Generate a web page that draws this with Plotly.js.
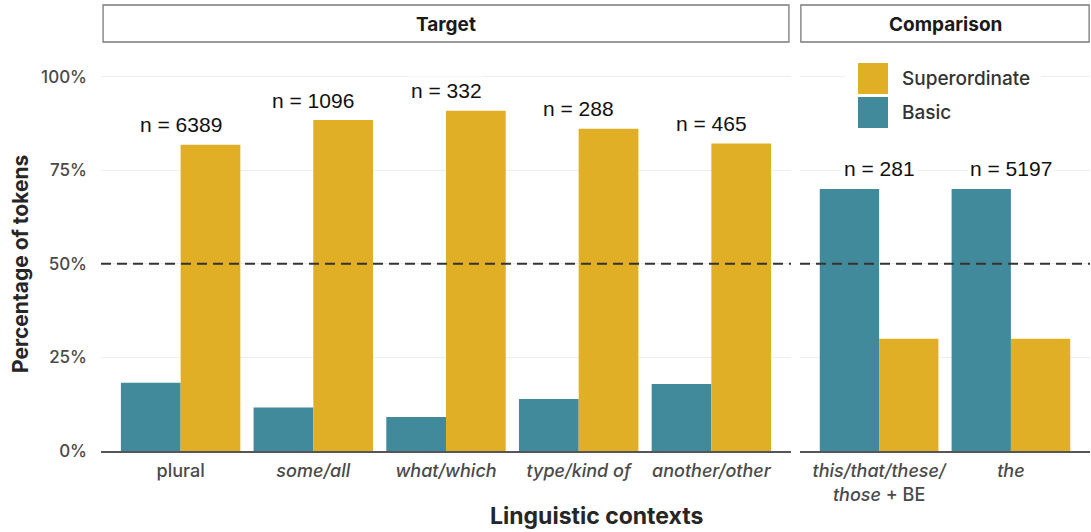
<!DOCTYPE html>
<html>
<head>
<meta charset="utf-8">
<script src="https://cdn.plot.ly/plotly-3.0.1.min.js"></script>
<style>html,body{margin:0;padding:0;background:#fff;}#chart{width:1091px;height:532px;}</style>
</head>
<body>
<div id="chart"></div>
<script>
// ---- data ----
const catsTarget = ['plural', 'some/all', 'what/which', 'type/kind of', 'another/other'];
const tickTarget = ['plural', '<i>some/all</i>', '<i>what/which</i>', '<i>type/kind of</i>', '<i>another/other</i>'];
const basicTarget = [18.2, 11.6, 9.1, 13.9, 17.9];
const superTarget = [81.8, 88.4, 90.9, 86.1, 82.1];
const nTarget = [6389, 1096, 332, 288, 465];

const catsComp = ['this/that/these/those + BE', 'the'];
const tickComp = ['<i>this/that/these/</i><br><i>those</i> + BE', '<i>the</i>'];
const basicComp = [70.0, 70.0];
const superComp = [30.0, 30.0];
const nComp = [281, 5197];

const yTickVals = [0, 25, 50, 75, 100];
const yTickText = ['0%', '25%', '50%', '75%', '100%'];
const facetNames = ['Target', 'Comparison'];
const seriesNames = ['Superordinate', 'Basic'];

// ---- style ----
const W = 1091, H = 532;
const px = x => x / W;
const py = y => (H - y) / H;
const colBasic = '#408a9b';
const colSuper = '#e0af25';
const themeFont = 'Inter, Roboto, "DejaVu Sans", sans-serif';

const traces = [
  {type: 'bar', name: 'Basic', x: catsTarget, y: basicTarget, xaxis: 'x', yaxis: 'y', marker: {color: colBasic}, showlegend: false, hoverinfo: 'x+y'},
  {type: 'bar', name: 'Superordinate', x: catsTarget, y: superTarget, xaxis: 'x', yaxis: 'y', marker: {color: colSuper}, showlegend: false, hoverinfo: 'x+y'},
  {type: 'bar', name: 'Basic', x: catsComp, y: basicComp, xaxis: 'x2', yaxis: 'y2', marker: {color: colBasic}, showlegend: false, hoverinfo: 'x+y'},
  {type: 'bar', name: 'Superordinate', x: catsComp, y: superComp, xaxis: 'x2', yaxis: 'y2', marker: {color: colSuper}, showlegend: false, hoverinfo: 'x+y'}
];

const yDomain = [py(451), py(451 - 3.744 * 105)];
const gridCol = '#eeeeee';

const xCommon = {
  type: 'category', showgrid: false, zeroline: false, showline: true,
  linecolor: '#555555', linewidth: 1.6, ticks: '', ticklabelstandoff: 3,
  tickfont: {family: themeFont, size: 18, color: '#4a4a4a', weight: 500}, fixedrange: true
};
const yCommon = {
  range: [0, 105], domain: yDomain, tickvals: yTickVals, ticktext: yTickText,
  showgrid: true, gridcolor: gridCol, gridwidth: 1, zeroline: false, showline: false,
  ticks: '', fixedrange: true
};

const layout = {
  width: W, height: H,
  margin: {l: 0, r: 0, t: 0, b: 0},
  paper_bgcolor: '#ffffff', plot_bgcolor: 'rgba(0,0,0,0)',
  barmode: 'group', bargap: 0.1, bargroupgap: 0,
  showlegend: false,
  xaxis: Object.assign({}, xCommon, {domain: [px(101), px(791)], anchor: 'y', range: [-0.6, catsTarget.length - 0.4],
    tickvals: catsTarget, ticktext: tickTarget}),
  xaxis2: Object.assign({}, xCommon, {domain: [px(800), px(1090)], anchor: 'y2', range: [-0.6, catsComp.length - 0.4],
    tickvals: catsComp, ticktext: tickComp}),
  yaxis: Object.assign({}, yCommon, {anchor: 'x', showticklabels: true, ticklabelstandoff: 13,
    tickfont: {family: themeFont, size: 17, color: '#4a4a4a', weight: 500}}),
  yaxis2: Object.assign({}, yCommon, {anchor: 'x2', matches: 'y', showticklabels: false}),
  shapes: [],
  annotations: []
};

// dashed 50% reference line in each panel
['x', 'x2'].forEach((xa, i) => {
  layout.shapes.push({type: 'line', xref: xa + ' domain', yref: i === 0 ? 'y' : 'y2', x0: 0, x1: 1, y0: 50, y1: 50,
    line: {color: '#333333', width: 2, dash: '10px,6px'}, layer: 'above'});
  // strip boxes
  layout.shapes.push({type: 'rect', xref: xa + ' domain', yref: 'paper', x0: 0.003, x1: 0.997, y0: py(42), y1: py(5),
    line: {color: '#7a7a7a', width: 1.3}, fillcolor: '#ffffff'});
  layout.annotations.push({xref: xa + ' domain', yref: 'paper', x: 0.5, y: py(24), text: '<b>' + facetNames[i] + '</b>',
    showarrow: false, xanchor: 'center', yanchor: 'middle', font: {family: themeFont, size: 19, color: '#1a1a1a'}});
});

// n labels
function addN(cats, b, s, n, xa, ya) {
  cats.forEach((c, i) => {
    layout.annotations.push({xref: xa, yref: ya, x: c, y: Math.max(b[i], s[i]), yshift: 20, text: 'n = ' + n[i],
      showarrow: false, xanchor: 'center', yanchor: 'middle', bgcolor: '#ffffff', borderpad: 2,
      font: {family: '"Liberation Sans", Arial, sans-serif', size: 21, color: '#111111'}});
  });
}
addN(catsTarget, basicTarget, superTarget, nTarget, 'x', 'y');
addN(catsComp, basicComp, superComp, nComp, 'x2', 'y2');

// legend (drawn inside comparison panel)
layout.shapes.push({type: 'rect', xref: 'paper', yref: 'paper', x0: px(845), x1: px(1041), y0: py(132), y1: py(58),
  line: {width: 0}, fillcolor: '#ffffff', layer: 'above'});
const legendCols = [colSuper, colBasic];
const legendTop = [63, 97];
seriesNames.forEach((nm, i) => {
  layout.shapes.push({type: 'rect', xref: 'paper', yref: 'paper', x0: px(858), x1: px(888), y0: py(legendTop[i] + 31), y1: py(legendTop[i]),
    line: {width: 0}, fillcolor: legendCols[i], layer: 'above'});
  layout.annotations.push({xref: 'paper', yref: 'paper', x: px(900), y: py(legendTop[i] + 15.5), text: nm, showarrow: false,
    xanchor: 'left', yanchor: 'middle', font: {family: themeFont, size: 19, color: '#333333', weight: 500}});
});

// axis titles
layout.annotations.push({xref: 'paper', yref: 'paper', x: px(596), y: py(516), text: '<b>Linguistic contexts</b>', showarrow: false,
  xanchor: 'center', yanchor: 'middle', font: {family: themeFont, size: 23, color: '#262626'}});
layout.annotations.push({xref: 'paper', yref: 'paper', x: px(20), y: py(264), text: '<b>Percentage of tokens</b>', showarrow: false,
  textangle: -90, xanchor: 'center', yanchor: 'middle', font: {family: themeFont, size: 21, color: '#262626'}});

Plotly.newPlot('chart', traces, layout, {displayModeBar: false, staticPlot: true});
</script>
</body>
</html>
